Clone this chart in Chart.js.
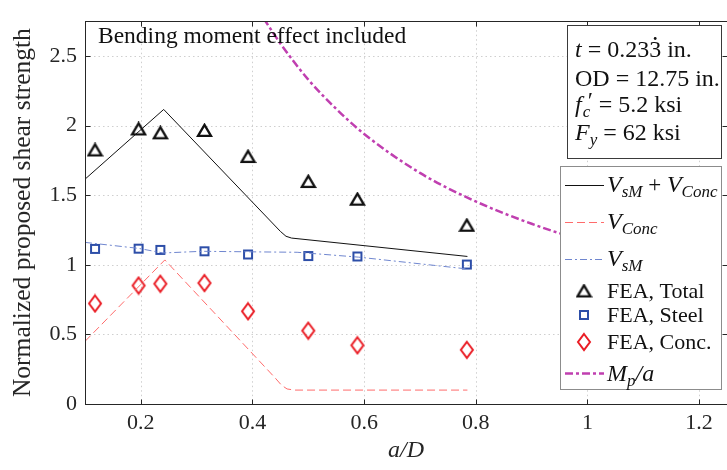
<!DOCTYPE html>
<html>
<head>
<meta charset="utf-8">
<script src="https://cdn.jsdelivr.net/npm/chart.js@4.4.1/dist/chart.umd.min.js"></script>
<style>
  html, body { margin: 0; padding: 0; background: #fff; overflow: hidden; }
  #wrap { width: 736px; height: 470px; }
</style>
</head>
<body>
<div id="wrap"><canvas id="chart" width="736" height="470"></canvas></div>
<script>
// a/D of the FEA runs
const aD = [0.118, 0.196, 0.235, 0.314, 0.392, 0.5, 0.588, 0.784];
const feaTotal = [1.825, 1.976, 1.948, 1.965, 1.778, 1.598, 1.471, 1.284];
const feaSteel = [1.114, 1.116, 1.107, 1.097, 1.074, 1.063, 1.060, 1.002];
const feaConc = [0.722, 0.851, 0.864, 0.869, 0.666, 0.527, 0.422, 0.389];

// proposed curves
const sumX = [0.1, 0.241, 0.45, 0.46, 0.47, 0.785];
const sumY = [1.615, 2.116, 1.24, 1.205, 1.192, 1.06];
const concX = [0.1, 0.243, 0.44, 0.452, 0.462, 0.475, 0.785];
const concY = [0.45, 1.035, 0.19, 0.135, 0.108, 0.1, 0.1];
const vsmX = [0.1, 0.196, 0.24, 0.31, 0.4, 0.48, 0.59, 0.785];
const vsmY = [1.161, 1.118, 1.085, 1.097, 1.093, 1.09, 1.055, 0.97];
const mpX = [0.42, 0.45, 0.5, 0.55, 0.6, 0.7, 0.8, 0.9, 1.0, 1.1, 1.2];
const mpY = [2.77, 2.59, 2.33, 2.12, 1.94, 1.66, 1.455, 1.295, 1.165, 1.06, 0.97];

const xTicks = [0.2, 0.4, 0.6, 0.8, 1, 1.2];
const yTicks = [0, 0.5, 1, 1.5, 2, 2.5];

const FONT = '"Liberation Serif", "Times New Roman", serif';
const AX = '#262626';

const pts = (xs, ys) => xs.map((x, i) => ({ x: x, y: ys[i] }));

// marker images
function marker(w, h, draw) {
  const c = document.createElement('canvas');
  c.width = w; c.height = h;
  const g = c.getContext('2d');
  draw(g);
  return c;
}
const triMark = marker(17, 15, g => {
  g.strokeStyle = '#111'; g.lineWidth = 2.3; g.lineJoin = 'miter';
  g.beginPath(); g.moveTo(8.5, 1.8); g.lineTo(2, 12.9); g.lineTo(15, 12.9); g.closePath(); g.stroke();
});
const sqMark = marker(12, 12, g => {
  g.strokeStyle = '#2d4ea8'; g.lineWidth = 2;
  g.strokeRect(2, 2, 8, 8);
});
const diaMark = marker(16, 20, g => {
  g.strokeStyle = '#ea1d25'; g.lineWidth = 2;
  g.beginPath(); g.moveTo(8, 2); g.lineTo(14, 10); g.lineTo(8, 18); g.lineTo(2, 10); g.closePath(); g.stroke();
});

function rich(ctx, x, y, parts) {
  parts.forEach(p => {
    ctx.font = (p.it ? 'italic ' : '') + p.s + 'px ' + FONT;
    ctx.fillText(p.t, x + (p.dx || 0), y + (p.dy || 0));
    x += ctx.measureText(p.t).width + (p.dx || 0);
  });
  return x;
}

const frame = {
  id: 'frame',
  beforeDatasetsDraw(chart) {
    const { ctx, chartArea: a, scales: { x, y } } = chart;
    ctx.save();
    ctx.strokeStyle = '#cfcfcf';
    ctx.lineWidth = 1;
    ctx.setLineDash([1.5, 3]);
    xTicks.forEach(v => {
      const px = Math.round(x.getPixelForValue(v)) + 0.5;
      ctx.beginPath(); ctx.moveTo(px, a.top); ctx.lineTo(px, a.bottom); ctx.stroke();
    });
    yTicks.slice(1).forEach(v => {
      const py = Math.round(y.getPixelForValue(v)) + 0.5;
      ctx.beginPath(); ctx.moveTo(a.left, py); ctx.lineTo(a.right, py); ctx.stroke();
    });
    ctx.restore();
  },
  afterDatasetsDraw(chart) {
    const { ctx, chartArea: a, scales: { x, y } } = chart;
    ctx.save();
    ctx.strokeStyle = AX;
    ctx.lineWidth = 1;
    const L = Math.round(a.left) + 0.5, R = Math.round(a.right) + 0.5;
    const T = Math.round(a.top) + 0.5, B = Math.round(a.bottom) + 0.5;
    ctx.strokeRect(L, T, R - L, B - T);
    const tl = 5;
    ctx.beginPath();
    xTicks.forEach(v => {
      const px = Math.round(x.getPixelForValue(v)) + 0.5;
      ctx.moveTo(px, B); ctx.lineTo(px, B - tl);
      ctx.moveTo(px, T); ctx.lineTo(px, T + tl);
    });
    yTicks.forEach(v => {
      const py = Math.round(y.getPixelForValue(v)) + 0.5;
      ctx.moveTo(L, py); ctx.lineTo(L + tl, py);
      ctx.moveTo(R, py); ctx.lineTo(R - tl, py);
    });
    ctx.stroke();
    ctx.restore();
  },
  afterDraw(chart) {
    const ctx = chart.ctx;
    ctx.save();
    ctx.fillStyle = '#111';
    ctx.textBaseline = 'alphabetic';
    ctx.font = '23.5px ' + FONT;
    ctx.fillText('Bending moment effect included', 98, 43);

    // parameter box
    ctx.fillStyle = '#fff';
    ctx.fillRect(567, 25, 155, 133);
    ctx.strokeStyle = '#3a3a3a'; ctx.lineWidth = 1;
    ctx.strokeRect(567.5, 25.5, 154, 133);
    ctx.fillStyle = '#111';
    const px0 = 575;
    let xx = rich(ctx, px0, 57, [{ t: 't', it: true, s: 24 }, { t: ' = 0.233', s: 24 }]);
    // repeating-decimal dot over the last 3
    ctx.font = '24px ' + FONT;
    const w3 = ctx.measureText('3').width;
    ctx.beginPath(); ctx.arc(xx - w3 / 2, 38.5, 1.4, 0, Math.PI * 2); ctx.fill();
    rich(ctx, xx, 57, [{ t: ' in.', s: 24 }]);
    rich(ctx, px0, 86, [{ t: 'OD = 12.75 in.', s: 24 }]);
    xx = rich(ctx, px0, 112, [{ t: 'f', it: true, s: 24 }]);
    ctx.font = 'italic 17px ' + FONT;
    ctx.fillText('c', xx + 1, 117);
    ctx.font = '24px ' + FONT;
    ctx.fillText('\u2032', xx + 6, 108);
    rich(ctx, xx + 11, 112, [{ t: ' = 5.2 ksi', s: 24 }]);
    rich(ctx, px0, 140, [{ t: 'F', it: true, s: 24 }, { t: 'y', it: true, s: 17, dy: 5 }, { t: ' = 62 ksi', s: 24 }]);

    // legend
    ctx.fillStyle = '#fff';
    ctx.fillRect(560, 166, 162, 223);
    ctx.strokeStyle = '#8c8c8c';
    ctx.strokeRect(560.5, 166.5, 161, 223);
    const lx0 = 565, lx1 = 604, mx = 584, tx = 607;
    const seg = (yy, col, w, dash) => {
      ctx.save();
      ctx.strokeStyle = col; ctx.lineWidth = w; ctx.setLineDash(dash);
      ctx.beginPath(); ctx.moveTo(lx0, yy); ctx.lineTo(lx1, yy); ctx.stroke();
      ctx.restore();
    };
    seg(185.5, '#111', 1, []);
    seg(222.5, '#ff6b6b', 1, [8, 4]);
    seg(259.5, '#6f86cf', 1, [7, 3, 2, 3]);
    seg(373.5, '#c03fb0', 2.5, [8, 3, 3, 3]);
    ctx.drawImage(triMark, mx - triMark.width / 2, 291 - triMark.height / 2);
    ctx.drawImage(sqMark, mx - sqMark.width / 2, 315 - sqMark.height / 2);
    ctx.drawImage(diaMark, mx - diaMark.width / 2, 342 - diaMark.height / 2);
    ctx.fillStyle = '#111';
    rich(ctx, tx, 192, [
      { t: 'V', it: true, s: 24 }, { t: 'sM', it: true, s: 17, dy: 5 },
      { t: ' + ', s: 23 },
      { t: 'V', it: true, s: 24 }, { t: 'Conc', it: true, s: 17, dy: 5 }
    ]);
    rich(ctx, tx, 229, [{ t: 'V', it: true, s: 24 }, { t: 'Conc', it: true, s: 17, dy: 5 }]);
    rich(ctx, tx, 266, [{ t: 'V', it: true, s: 24 }, { t: 'sM', it: true, s: 17, dy: 5 }]);
    ctx.font = '22px ' + FONT;
    ctx.fillText('FEA, Total', tx, 298);
    ctx.fillText('FEA, Steel', tx, 322);
    ctx.fillText('FEA, Conc.', tx, 349);
    rich(ctx, tx, 381, [{ t: 'M', it: true, s: 24 }, { t: 'p', it: true, s: 17, dy: 5 }, { t: '/a', it: true, s: 24 }]);
    ctx.restore();
  }
};

new Chart(document.getElementById('chart'), {
  type: 'scatter',
  data: {
    datasets: [
      { label: 'VsM + VConc', data: pts(sumX, sumY), showLine: true, borderColor: '#111', borderWidth: 1, pointRadius: 0, tension: 0 },
      { label: 'VConc', data: pts(concX, concY), showLine: true, borderColor: '#ff6b6b', borderWidth: 1, borderDash: [8, 4], pointRadius: 0 },
      { label: 'VsM', data: pts(vsmX, vsmY), showLine: true, borderColor: '#6f86cf', borderWidth: 1, borderDash: [7, 3, 2, 3], pointRadius: 0 },
      { label: 'FEA, Total', data: pts(aD, feaTotal), pointStyle: triMark, pointRadius: 8 },
      { label: 'FEA, Steel', data: pts(aD, feaSteel), pointStyle: sqMark, pointRadius: 6 },
      { label: 'FEA, Conc.', data: pts(aD, feaConc), pointStyle: diaMark, pointRadius: 8 },
      { label: 'Mp/a', data: pts(mpX, mpY), showLine: true, borderColor: '#c03fb0', borderWidth: 2.5, borderDash: [8, 3, 3, 3], pointRadius: 0, cubicInterpolationMode: 'monotone' }
    ]
  },
  options: {
    responsive: false,
    animation: false,
    devicePixelRatio: 1,
    layout: { padding: { top: 11, right: 5, left: 0, bottom: 0 } },
    plugins: { legend: { display: false }, tooltip: { enabled: false } },
    scales: {
      x: {
        type: 'linear', min: 0.1, max: 1.25,
        afterFit: s => { s.height = 66; },
        afterBuildTicks: s => { s.ticks = xTicks.map(v => ({ value: v })); },
        grid: { display: false, drawTicks: false },
        border: { display: false },
        ticks: { color: AX, padding: 6, font: { family: FONT, size: 22 }, callback: v => String(v) },
        title: { display: true, text: 'a/D', color: AX, padding: { top: 0, bottom: 5 }, font: { family: FONT, size: 24, style: 'italic' } }
      },
      y: {
        type: 'linear', min: 0, max: 2.75,
        afterFit: s => { s.width = 85; },
        afterBuildTicks: s => { s.ticks = yTicks.map(v => ({ value: v })); },
        grid: { display: false, drawTicks: false },
        border: { display: false },
        ticks: { color: AX, padding: 8, font: { family: FONT, size: 22 }, callback: v => String(v) },
        title: { display: true, text: 'Normalized proposed shear strength', color: AX, padding: { top: 8, bottom: 0 }, font: { family: FONT, size: 25.5 } }
      }
    }
  },
  plugins: [frame]
});
</script>
</body>
</html>
